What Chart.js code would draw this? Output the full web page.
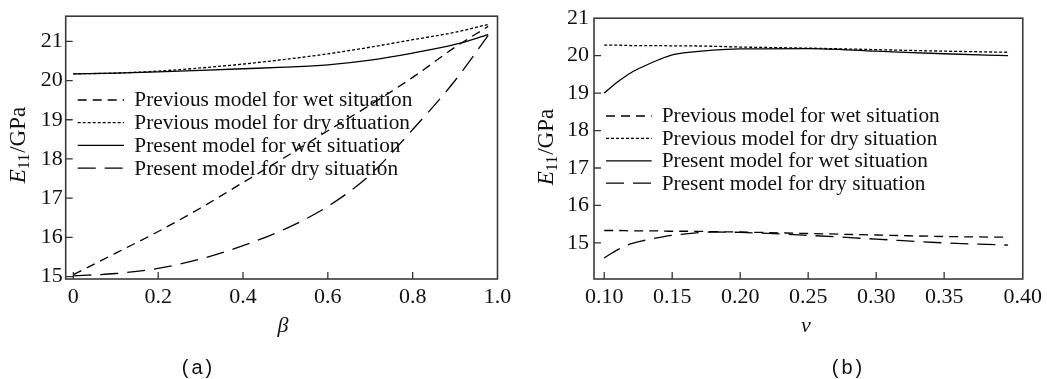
<!DOCTYPE html>
<html><head><meta charset="utf-8">
<script src="https://cdn.jsdelivr.net/npm/chart.js@4.4.0/dist/chart.umd.min.js"></script>
<style>html,body{margin:0;padding:0;background:#fff;}#wrap{position:relative;width:1047px;height:379px;}canvas{position:absolute;top:0;}</style>
</head><body><div id="wrap"><canvas id="ca" width="520" height="379" style="left:0"></canvas><canvas id="cb" width="527" height="379" style="left:520px"></canvas></div>
<script>
// ---------- data ----------
const seriesLabels = ["Previous model for wet situation","Previous model for dry situation","Present model for wet situation","Present model for dry situation"];

const betaA    = [0, 0.1, 0.2, 0.3, 0.4, 0.5, 0.6, 0.7, 0.8, 0.9, 0.978];
const prevWetA = [15.05, 15.6, 16.15, 16.75, 17.4, 18.05, 18.72, 19.38, 20.08, 20.85, 21.38];
const prevDryA = [20.17, 20.19, 20.24, 20.32, 20.42, 20.54, 20.68, 20.85, 21.04, 21.23, 21.43];
const presWetA = [20.17, 20.19, 20.22, 20.26, 20.30, 20.34, 20.40, 20.52, 20.70, 20.92, 21.17];
const presDryA = [15.02, 15.08, 15.21, 15.45, 15.79, 16.22, 16.79, 17.6, 18.75, 20.0, 21.15];
const xTicksA = [0, 0.2, 0.4, 0.6, 0.8, 1.0];
const xTickLabelsA = ["0", "0.2", "0.4", "0.6", "0.8", "1.0"];
const yTicksA = [15, 16, 17, 18, 19, 20, 21];

const nuB      = [0.10, 0.11, 0.12, 0.13, 0.14, 0.15, 0.16, 0.18, 0.20, 0.25, 0.30, 0.35, 0.397];
const prevWetB = [15.33, 15.33, 15.32, 15.32, 15.32, 15.31, 15.31, 15.30, 15.29, 15.25, 15.21, 15.17, 15.15];
const prevDryB = [20.28, 20.28, 20.27, 20.27, 20.27, 20.26, 20.26, 20.25, 20.23, 20.20, 20.16, 20.12, 20.09];
const presWetB = [19.0, 19.3, 19.55, 19.73, 19.89, 20.02, 20.08, 20.15, 20.18, 20.19, 20.12, 20.05, 20.0];
const presDryB = [14.6, 14.82, 14.98, 15.07, 15.14, 15.2, 15.24, 15.29, 15.28, 15.2, 15.1, 15.0, 14.94];
const xTicksB = [0.10, 0.15, 0.20, 0.25, 0.30, 0.35, 0.4078];
const xTickLabelsB = ["0.10", "0.15", "0.20", "0.25", "0.30", "0.35", "0.40"];
const yTicksB = [15, 16, 17, 18, 19, 20, 21];

// ---------- styles ----------
const SERIF = "'Liberation Serif','Times New Roman',serif";
const SANS = "'Liberation Sans',Arial,sans-serif";
const dashes = [[9, 6], [3, 2], [], [18, 9]];
const INK = '#111';

const decoPlugin = {
  id: 'deco',
  afterDatasetsDraw(chart, args, o) {
    const ctx = chart.ctx, ca = chart.chartArea;
    const xs = chart.scales.x, ys = chart.scales.y;
    ctx.save();
    // inward tick marks
    ctx.strokeStyle = '#333'; ctx.lineWidth = 1.3; ctx.setLineDash([]);
    ctx.beginPath();
    xs.ticks.forEach(t => { const p = xs.getPixelForValue(t.value); if (p > ca.left + 1 && p < ca.right - 1) { ctx.moveTo(p, ca.bottom); ctx.lineTo(p, ca.bottom - 7); } });
    ys.ticks.forEach(t => { const p = ys.getPixelForValue(t.value); if (p > ca.top + 1 && p < ca.bottom - 1) { ctx.moveTo(ca.left, p); ctx.lineTo(ca.left + 7, p); } });
    ctx.stroke();
    // frame
    ctx.strokeStyle = '#3a3a3a'; ctx.lineWidth = 1.6;
    ctx.strokeRect(ca.left, ca.top, ca.right - ca.left, ca.bottom - ca.top);
    // legend
    ctx.font = '21.3px ' + SERIF; ctx.fillStyle = INK; ctx.textBaseline = 'alphabetic'; ctx.textAlign = 'left';
    chart.data.datasets.forEach((ds, i) => {
      const y = o.legY + i * o.legDy;
      ctx.strokeStyle = '#000'; ctx.lineWidth = 1.3; ctx.setLineDash(ds.borderDash || []);
      ctx.beginPath(); ctx.moveTo(o.legX0, y); ctx.lineTo(o.legX1, y); ctx.stroke();
      ctx.setLineDash([]);
      ctx.fillText(ds.label, o.legTx, y + 6.4);
    });
    // y title: E11/GPa rotated
    ctx.save();
    ctx.translate(o.yTitleX, o.yTitleY);
    ctx.rotate(-Math.PI / 2);
    ctx.fillStyle = INK;
    const fMain = '23px ' + SERIF, fIt = 'italic 23px ' + SERIF, fSub = '16px ' + SERIF;
    ctx.font = fIt; const wE = ctx.measureText('E').width;
    ctx.font = fSub; const wS = ctx.measureText('11').width;
    ctx.font = fMain; const wG = ctx.measureText('/GPa').width;
    let x = -(wE + wS + 1 + wG) / 2;
    ctx.font = fIt; ctx.fillText('E', x, 0); x += wE;
    ctx.font = fSub; ctx.fillText('11', x, 4); x += wS + 1;
    ctx.font = fMain; ctx.fillText('/GPa', x, 0);
    ctx.restore();
    // x title
    ctx.font = 'italic 22px ' + SERIF; ctx.textAlign = 'center';
    ctx.fillText(o.xTitle, o.xTitleX, 332);
    // caption "( a )" drawn glyph by glyph
    ctx.font = '20px ' + SANS; ctx.textAlign = 'left';
    const parts = ['(', o.caption, ')'];
    const gap = 3;
    const ws = parts.map(p => ctx.measureText(p).width);
    let cx = o.capX - (ws[0] + ws[1] + ws[2] + 2 * gap) / 2;
    parts.forEach((p, i) => { ctx.fillText(p, cx, 374); cx += ws[i] + gap; });
    ctx.restore();
  }
};

function makeChart(id, xs, series, cfg) {
  const datasets = series.map((ys, i) => ({
    label: seriesLabels[i],
    data: xs.map((x, j) => ({ x: x, y: ys[j] })),
    borderColor: '#000', borderWidth: 1.3, borderDash: dashes[i],
    pointRadius: 0, fill: false, cubicInterpolationMode: 'monotone'
  }));
  return new Chart(document.getElementById(id), {
    type: 'line',
    data: { datasets },
    plugins: [decoPlugin],
    options: {
      responsive: false, animation: false, devicePixelRatio: 1,
      layout: { padding: { left: 0, top: cfg.top, right: cfg.right, bottom: 0 } },
      plugins: { legend: { display: false }, tooltip: { enabled: false }, deco: cfg.deco },
      scales: {
        x: {
          type: 'linear', min: cfg.xmin, max: cfg.xmax,
          afterBuildTicks: s => { s.ticks = cfg.xTicks.map(v => ({ value: v })); },
          afterFit: s => { s.height = 100; },
          grid: { display: false, drawTicks: false }, border: { display: false },
          ticks: { autoSkip: false, maxRotation: 0, padding: 5, color: INK, font: { family: SERIF, size: 22 },
                   callback: (v, i) => cfg.xLabels[i] }
        },
        y: {
          type: 'linear', min: cfg.ymin, max: cfg.ymax,
          afterBuildTicks: s => { s.ticks = cfg.yTicks.map(v => ({ value: v })); },
          afterFit: s => { s.width = cfg.yw; },
          grid: { display: false, drawTicks: false }, border: { display: false },
          ticks: { autoSkip: false, padding: cfg.ypad, color: INK, font: { family: SERIF, size: 22 },
                   callback: (v) => String(v) }
        }
      }
    }
  });
}

makeChart('ca', betaA, [prevWetA, prevDryA, presWetA, presDryA], {
  top: 11, right: 22.5, yw: 65.7, ypad: 3,
  xmin: -0.018, xmax: 1.0, ymin: 14.94, ymax: 21.64,
  xTicks: xTicksA, xLabels: xTickLabelsA, yTicks: yTicksA,
  deco: { legX0: 77.7, legX1: 124, legTx: 134.3, legY: 100, legDy: 22.7,
          yTitleX: 25, yTitleY: 145, xTitle: 'β', xTitleX: 283, caption: 'a', capX: 197 }
});
makeChart('cb', nuB, [prevWetB, prevDryB, presWetB, presDryB], {
  top: 10.7, right: 22, yw: 74, ypad: 5,
  xmin: 0.0925, xmax: 0.4078, ymin: 14.035, ymax: 21.0,
  xTicks: xTicksB, xLabels: xTickLabelsB, yTicks: yTicksB,
  deco: { legX0: 86, legX1: 131.7, legTx: 141.7, legY: 116, legDy: 22.4,
          yTitleX: 33, yTitleY: 147, xTitle: 'ν', xTitleX: 286, caption: 'b', capX: 327 }
});
</script>
</body></html>
